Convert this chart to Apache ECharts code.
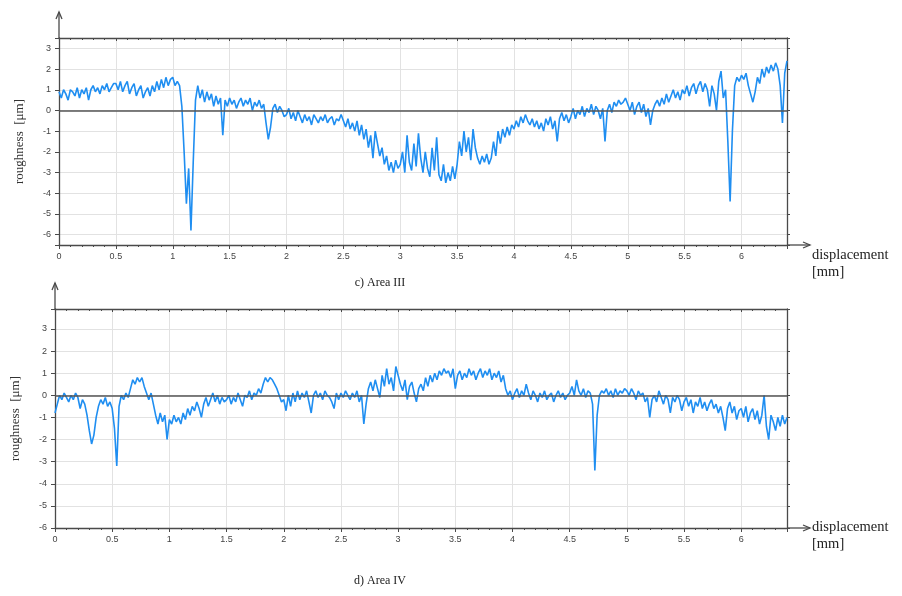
<!DOCTYPE html>
<html>
<head>
<meta charset="UTF-8">
<title>roughness profiles</title>
<script src="https://cdn.jsdelivr.net/npm/echarts@6/dist/echarts.min.js"></script>
<style>
body{margin:0;background:#fff;}
#chart{width:902px;height:596px;}
</style>
</head>
<body>
<div id="chart"></div>
<script type="text/javascript">
// sampling step of the profilometer traces (mm)
var stepMm = 0.02;

// Area III roughness [um], one row = 0.5 mm
var areaIII = [
  0.9, 0.6, 1.0, 0.8, 0.5, 1.0, 0.9, 0.7, 1.1, 0.6, 1.0, 0.8, 1.1, 0.5, 1.0, 1.2, 0.9, 1.1, 0.8, 1.2, 1.0, 1.3, 0.9, 1.1, 1.3,
  1.3, 1.0, 1.4, 0.9, 1.2, 1.4, 0.8, 1.1, 1.3, 0.7, 1.0, 1.2, 0.6, 0.9, 1.1, 0.7, 1.2, 0.9, 1.4, 1.0, 1.5, 1.1, 1.6, 1.2, 1.5,
  1.6, 1.2, 1.4, 1.2, 0.2, -2.0, -4.5, -2.8, -5.8, -2.5, 0.5, 1.2, 0.6, 1.0, 0.4, 0.9, 0.5, 0.8, 0.2, 0.7, 0.3, 0.6, -1.2, 0.5, 0.2,
  0.6, 0.3, 0.5, 0.1, 0.4, 0.6, 0.2, 0.5, 0.3, 0.6, 0.0, 0.4, 0.2, 0.5, 0.1, 0.3, -0.6, -1.4, -0.8, 0.1, 0.3, -0.1, 0.2, 0.0, -0.3,
  -0.2, 0.1, -0.4, -0.1, -0.5, 0.0, -0.3, -0.6, -0.2, -0.5, -0.3, -0.7, -0.2, -0.4, -0.6, -0.3, -0.5, -0.2, -0.6, -0.4, -0.3, -0.7, -0.4, -0.5, -0.2,
  -0.5, -0.8, -0.4, -0.9, -0.6, -1.0, -0.5, -1.2, -0.7, -1.4, -0.9, -1.8, -1.2, -2.3, -1.0, -1.6, -2.2, -1.8, -2.6, -2.2, -2.9, -2.5, -3.0, -2.4, -2.8,
  -2.6, -2.0, -3.0, -1.2, -2.5, -2.9, -1.6, -2.7, -1.1, -2.3, -3.0, -2.0, -2.8, -3.2, -1.8, -2.9, -1.3, -3.1, -3.4, -2.6, -3.5, -3.0, -3.4, -2.7, -3.3,
  -2.6, -1.5, -2.2, -1.0, -2.0, -1.3, -2.4, -0.9, -1.8, -2.3, -2.6, -2.2, -2.5, -2.1, -2.6, -2.3, -1.5, -2.2, -1.0, -1.6, -0.9, -1.3, -0.8, -1.2, -0.7,
  -0.9, -0.5, -0.8, -0.3, -0.6, -0.2, -0.5, -0.7, -0.4, -0.8, -0.5, -0.9, -0.6, -1.0, -0.4, -0.7, -0.3, -0.9, -0.5, -1.5, -0.4, -0.1, -0.5, -0.2, -0.6,
  -0.3, 0.1, -0.4, 0.0, -0.2, 0.2, -0.3, 0.1, -0.1, 0.3, -0.2, 0.2, 0.0, -0.4, 0.1, -1.5, 0.0, 0.3, -0.1, 0.4, 0.2, 0.5, 0.3, 0.4, 0.6,
  0.3, 0.0, 0.4, -0.2, 0.2, 0.4, -0.1, 0.3, -0.3, 0.1, -0.7, 0.0, 0.3, 0.5, 0.2, 0.6, 0.3, 0.8, 0.4, 0.7, 1.0, 0.6, 0.9, 0.5, 1.0,
  0.8, 1.2, 0.7, 1.1, 1.3, 0.8, 1.2, 1.4, 0.9, 1.3, 1.0, 0.2, 1.2, 0.8, 0.0, 1.4, 1.9, 0.6, 1.0, -1.5, -4.4, -1.0, 1.2, 1.6, 1.4,
  1.7, 1.5, 1.8, 1.2, 0.8, 0.4, 0.9, 1.6, 1.3, 2.0, 1.6, 2.1, 1.8, 2.2, 1.9, 2.3, 2.0, 1.2, -0.6, 1.8, 2.4
];

// Area IV roughness [um], one row = 0.5 mm
var areaIV = [
  -0.8, -0.4, 0.0, -0.2, 0.1, -0.1, -0.3, 0.0, -0.2, 0.1, -0.1, -0.6, -0.2, -0.4, -0.9, -1.6, -2.2, -1.8, -1.0, -0.5, -0.2, -0.4, -0.1, -0.5, -0.3,
  -0.6, -1.5, -3.2, -0.5, 0.0, -0.2, 0.1, -0.1, 0.3, 0.7, 0.5, 0.8, 0.6, 0.8, 0.4, 0.1, -0.2, 0.1, -0.4, -0.9, -1.3, -0.8, -1.2, -0.9, -2.0,
  -1.1, -1.3, -0.9, -1.2, -1.0, -1.3, -0.8, -1.1, -0.6, -0.9, -0.5, -0.7, -0.3, -0.6, -1.0, -0.4, -0.1, -0.5, -0.2, 0.1, -0.3, 0.0, -0.4, -0.1, -0.3,
  -0.2, 0.0, -0.4, -0.1, -0.3, 0.1, -0.2, -0.5, 0.0, -0.1, 0.2, -0.2, 0.1, 0.0, 0.3, 0.1, 0.5, 0.8, 0.6, 0.8, 0.7, 0.5, 0.3, 0.0, -0.3,
  -0.2, -0.7, 0.0, -0.5, 0.1, -0.3, 0.2, -0.2, 0.1, -0.1, 0.2, -0.3, -0.8, 0.0, 0.2, -0.1, 0.1, -0.2, 0.2, 0.0, -0.1, -0.3, -0.6, 0.1, -0.2,
  0.1, -0.1, 0.2, 0.0, -0.2, 0.1, -0.1, 0.2, -0.3, 0.0, -1.3, -0.4, 0.3, 0.6, 0.2, 0.7, 0.3, -0.1, 0.9, 0.4, 1.2, 0.5, 0.8, 0.2, 1.3,
  0.9, 0.5, 0.2, 0.7, -0.2, 0.4, 0.6, 0.1, -0.3, 0.3, 0.5, 0.2, 0.8, 0.4, 0.9, 0.6, 1.0, 0.7, 1.1, 0.9, 1.2, 1.0, 1.1, 0.8, 1.2,
  0.3, 0.9, 1.1, 0.7, 1.0, 0.8, 1.2, 0.9, 1.1, 0.7, 1.0, 1.2, 0.8, 1.1, 0.9, 1.2, 0.7, 1.0, 0.8, 1.1, 0.6, 0.9, 0.3, 0.0, 0.2,
  -0.2, 0.1, 0.3, -0.1, 0.2, 0.0, 0.5, 0.1, -0.2, 0.2, 0.0, -0.3, 0.1, -0.1, 0.2, -0.2, 0.0, 0.1, -0.3, 0.0, 0.2, -0.1, 0.1, -0.2, 0.0,
  0.1, 0.4, 0.0, 0.7, 0.2, 0.0, 0.3, -0.1, 0.2, 0.1, -0.4, -3.4, -0.9, 0.0, 0.2, 0.1, 0.3, 0.0, 0.2, -0.1, 0.3, 0.0, 0.2, 0.1, 0.3,
  0.2, 0.0, 0.3, 0.1, -0.2, 0.2, 0.0, 0.1, -0.3, -0.1, -1.0, -0.2, 0.0, -0.3, 0.2, -0.1, -0.4, 0.0, -0.2, -0.8, -0.1, -0.3, 0.0, -0.2, -0.7,
  -0.3, -0.1, -0.5, -0.2, -0.8, -0.3, -0.5, -0.1, -0.6, -0.3, -0.7, -0.4, -0.2, -0.6, -0.4, -0.8, -0.5, -1.0, -1.6, -0.6, -0.3, -0.8, -0.5, -1.1, -0.7,
  -0.6, -1.0, -0.5, -1.2, -0.8, -0.6, -1.1, -0.7, -1.3, -0.9, 0.0, -1.4, -2.0, -0.9, -1.2, -1.6, -1.0, -1.4, -0.9, -1.3, -1.0
];

var captions = ['c) Area III', 'd) Area IV'];
var yName = 'roughness  [μm]';
var xName = ['displacement', '[mm]'];

function toPairs(arr){
	var out = [];
	for (var i = 0; i < arr.length; i++) {
		out.push([+(i * stepMm).toFixed(2), arr[i]]);
	}
	return out;
}

var frameColor = '#4a4a4a';
var labelStyle = {fontSize: 9, color: '#444', fontFamily: 'Liberation Sans'};

function mainX(g){
	return {
		gridIndex: g, type: 'value', min: 0, max: 6.4, interval: 0.5,
		axisLine: {onZero: false, lineStyle: {color: frameColor, width: 1.3}},
		axisTick: {length: 4, lineStyle: {color: frameColor}},
		minorTick: {show: true, splitNumber: 5, length: 2, lineStyle: {color: frameColor}},
		axisLabel: Object.assign({margin: 7, formatter: function(v){
			return Math.abs(v * 2 - Math.round(v * 2)) < 1e-6 ? String(v) : '';
		}}, labelStyle),
		splitLine: {show: true, lineStyle: {color: '#e2e2e2', width: 1}}
	};
}
function topX(g){
	return {
		gridIndex: g, type: 'value', min: 0, max: 6.4, interval: 0.5, position: 'top',
		axisLine: {onZero: false, lineStyle: {color: frameColor, width: 1.3}},
		axisTick: {inside: true, length: 3, lineStyle: {color: frameColor}},
		minorTick: {show: true, splitNumber: 5, length: 2, lineStyle: {color: frameColor}},
		axisLabel: {show: false}, splitLine: {show: false}
	};
}
function mainY(g, lo, hi){
	return {
		gridIndex: g, type: 'value', min: lo, max: hi, splitNumber: 10, minInterval: 1, maxInterval: 1,
		name: yName, nameLocation: 'middle', nameGap: 33,
		nameTextStyle: {fontFamily: 'Liberation Serif', fontSize: 13, color: '#333'},
		axisLine: {onZero: false, lineStyle: {color: frameColor, width: 1.3}},
		axisTick: {length: 4, lineStyle: {color: frameColor}},
		axisLabel: Object.assign({margin: 8, formatter: function(v){
			return Math.abs(v - Math.round(v)) < 1e-6 ? String(Math.round(v)) : '';
		}}, labelStyle),
		splitLine: {show: true, lineStyle: {color: '#e2e2e2', width: 1}}
	};
}
function rightY(g, lo, hi){
	return {
		gridIndex: g, type: 'value', min: lo, max: hi, splitNumber: 10, minInterval: 1, maxInterval: 1,
		position: 'right',
		axisLine: {onZero: false, lineStyle: {color: frameColor, width: 1.3}},
		axisTick: {length: 3, lineStyle: {color: frameColor}},
		axisLabel: {show: false}, splitLine: {show: false}
	};
}
function profile(g, arr){
	return {
		type: 'line', xAxisIndex: g, yAxisIndex: g, data: toPairs(arr),
		showSymbol: false, symbol: 'none', sampling: 'none',
		lineStyle: {color: '#1f8ef1', width: 1.6},
		markLine: {
			silent: true, symbol: 'none', label: {show: false},
			lineStyle: {color: '#555', width: 1.5, type: 'solid'},
			data: [{yAxis: 0}]
		}
	};
}

var mychart = echarts.init(document.getElementById('chart'));
var option = {
	backgroundColor: '#fff',
	animation: false,
	grid: [
		{left: 59, top: 38, width: 728, height: 207},
		{left: 55, top: 309, width: 732, height: 219}
	],
	xAxis: [mainX(0), mainX(1), topX(0), topX(1)],
	yAxis: [mainY(0, -6.5, 3.5), mainY(1, -6, 3.9), rightY(0, -6.5, 3.5), rightY(1, -6, 3.9)],
	series: [profile(0, areaIII), profile(1, areaIV)]
};
mychart.setOption(option);

// axis arrows and texts, placed from the axes' own pixel positions
var gfx = [];
var yTop = [3.5, 3.9], yBot = [-6.5, -6];
for (var g = 0; g < 2; g++) {
	var tl = mychart.convertToPixel({xAxisIndex: g, yAxisIndex: g}, [0, yTop[g]]);
	var br = mychart.convertToPixel({xAxisIndex: g, yAxisIndex: g}, [6.4, yBot[g]]);
	var ax = tl[0], ay = tl[1] - 26;
	gfx.push({type: 'line', shape: {x1: ax, y1: tl[1], x2: ax, y2: ay}, style: {stroke: frameColor, lineWidth: 1.3}});
	gfx.push({type: 'polyline', shape: {points: [[ax - 3, ay + 7], [ax, ay], [ax + 3, ay + 7]]}, style: {stroke: frameColor, lineWidth: 1.3, fill: null}});
	var bx = br[0] + 23, by = br[1];
	gfx.push({type: 'line', shape: {x1: br[0], y1: by, x2: bx, y2: by}, style: {stroke: frameColor, lineWidth: 1.3}});
	gfx.push({type: 'polyline', shape: {points: [[bx - 7, by - 3], [bx, by], [bx - 7, by + 3]]}, style: {stroke: frameColor, lineWidth: 1.3, fill: null}});
	gfx.push({type: 'text', x: bx + 2, y: by - (g === 0 ? -10 : 1), style: {text: xName[0], font: '14.5px "Liberation Serif"', fill: '#222', verticalAlign: 'middle'}});
	gfx.push({type: 'text', x: bx + 2, y: by + (g === 0 ? 27 : 16), style: {text: xName[1], font: '14.5px "Liberation Serif"', fill: '#222', verticalAlign: 'middle'}});
}
gfx.push({type: 'text', x: 380, y: 283, style: {text: captions[0], font: '12px "Liberation Serif"', fill: '#222', align: 'center', verticalAlign: 'middle'}});
gfx.push({type: 'text', x: 380, y: 581, style: {text: captions[1], font: '12px "Liberation Serif"', fill: '#222', align: 'center', verticalAlign: 'middle'}});
mychart.setOption({graphic: gfx});
</script>
</body>
</html>
